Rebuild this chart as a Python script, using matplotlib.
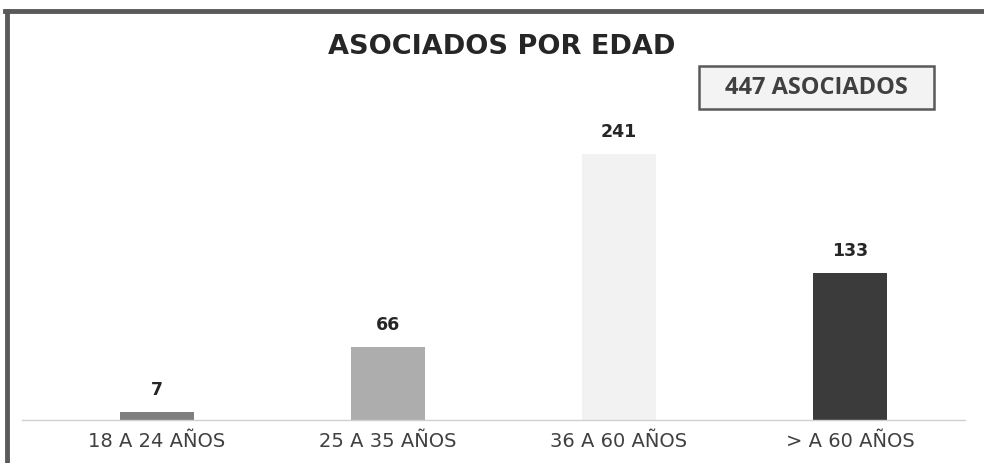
import matplotlib
matplotlib.use("Agg")
import matplotlib.pyplot as plt
from matplotlib.lines import Line2D
from matplotlib.patches import Rectangle

categories = ["18 A 24 AÑOS", "25 A 35 AÑOS", "36 A 60 AÑOS", "> A 60 AÑOS"]
values = [7, 66, 241, 133]
colors = ["#7f7f7f", "#adadad", "#f2f2f2", "#3b3b3b"]
total_label = "447 ASOCIADOS"
title = "ASOCIADOS POR EDAD"

plt.rcParams["font.family"] = ["DejaVu Sans"]

W, H = 984, 464
fig = plt.figure(figsize=(W / 100, H / 100), dpi=100)
ax = fig.add_axes([22 / W, (H - 421) / H, (965 - 22) / W, (421 - 60) / H])

x = list(range(len(categories)))
bars = ax.bar(x, values, width=0.32, color=colors)
ax.set_xlim(-0.584, 3.498)
ax.set_ylim(0, 327)

for bar, v in zip(bars, values):
    ax.text(bar.get_x() + bar.get_width() / 2, v + 13, str(v),
            ha="center", va="bottom", fontsize=12.5, fontweight="bold", color="#262626")

ax.set_xticks(x)
ax.set_xticklabels(categories, fontsize=14, color="#404040")
ax.tick_params(axis="x", length=0, pad=8)
ax.set_yticks([])
for side in ["top", "right", "left"]:
    ax.spines[side].set_visible(False)
ax.spines["bottom"].set_color("#d0d0d0")
ax.spines["bottom"].set_linewidth(1)

fig.text(502 / W, 1 - 47 / H, title, ha="center", va="center",
         fontsize=19.5, fontweight="bold", color="#262626")

# total box
fig.add_artist(Rectangle((699 / W, 1 - 110 / H), (934 - 699) / W, (110 - 67) / H,
                         transform=fig.transFigure, facecolor="#f3f3f3",
                         edgecolor="#595959", linewidth=1.8))
fig.text(816 / W, 1 - 88.5 / H, total_label, ha="center", va="center",
         fontsize=17, fontweight="bold", color="#404040",
         family=["Open Sans", "DejaVu Sans"])

# outer frame (left and top)
fig.add_artist(Line2D([7 / W, 7 / W], [0, 1 - 12 / H], transform=fig.transFigure,
                      color="#5a5a5a", linewidth=3.5))
fig.add_artist(Line2D([5.3 / W, 1], [1 - 12 / H, 1 - 12 / H], transform=fig.transFigure,
                      color="#5a5a5a", linewidth=3.5))

fig.savefig("out.png", dpi=100)
